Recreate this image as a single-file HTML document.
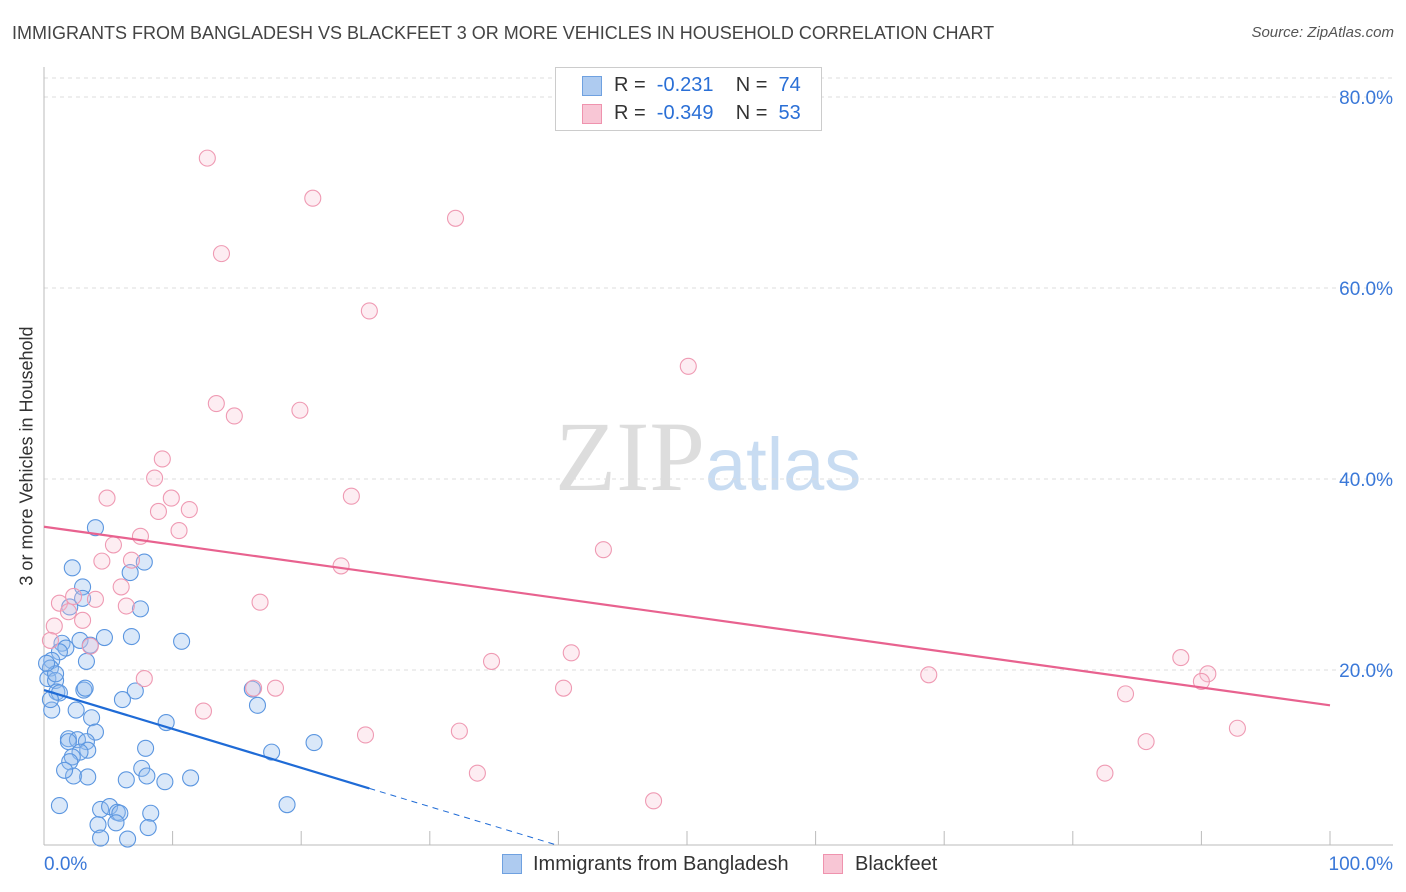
<!DOCTYPE html>
<html><head><meta charset="utf-8"><style>
body{margin:0;background:#fff;font-family:"Liberation Sans",sans-serif;}
#wrap{position:relative;width:1406px;height:892px;overflow:hidden;}
.t{position:absolute;white-space:nowrap;}
</style></head><body>
<div id="wrap">
<div class="t" style="left:12px;top:23px;font-size:18px;color:#444;">IMMIGRANTS FROM BANGLADESH VS BLACKFEET 3 OR MORE VEHICLES IN HOUSEHOLD CORRELATION CHART</div>
<div class="t" style="right:12px;top:24px;font-size:15px;color:#555;font-style:italic;">Source: ZipAtlas.com</div>
<div class="t" style="left:27px;top:456px;font-size:18px;color:#333;transform:translate(-50%,-50%) rotate(-90deg);">3 or more Vehicles in Household</div>
<svg id="svg" width="1406" height="892" style="position:absolute;left:0;top:0">
<text x="555" y="490" font-size="100" font-family="Liberation Serif" fill="#ddd">ZIP<tspan fill="#c8dcf2" font-family="Liberation Sans" font-size="74">atlas</tspan></text>
</svg>
<div style="position:absolute;left:555px;top:67px;width:265px;height:62px;border:1px solid #ccc;background:#fff;font-size:20px;color:#333;">
<div style="position:absolute;left:26px;top:8px;width:18px;height:18px;background:#aecbf0;border:1px solid #6fa1e0"></div>
<div class="t" style="left:58px;top:6px">R = &nbsp;<span style="color:#2a6fd6">-0.231</span>&nbsp;&nbsp;&nbsp; N = &nbsp;<span style="color:#2a6fd6">74</span></div>
<div style="position:absolute;left:26px;top:36px;width:18px;height:18px;background:#f8c6d5;border:1px solid #ef93ae"></div>
<div class="t" style="left:58px;top:34px">R = &nbsp;<span style="color:#2a6fd6">-0.349</span>&nbsp;&nbsp;&nbsp; N = &nbsp;<span style="color:#2a6fd6">53</span></div>
</div>
<div style="position:absolute;left:502px;top:854px;width:18px;height:18px;background:#aecbf0;border:1px solid #6fa1e0"></div>
<div class="t" style="left:533px;top:853px;font-size:20px;color:#333">Immigrants from Bangladesh</div>
<div style="position:absolute;left:823px;top:854px;width:18px;height:18px;background:#f8c6d5;border:1px solid #ef93ae"></div>
<div class="t" style="left:855px;top:853px;font-size:20px;color:#333">Blackfeet</div>
</div>
<script>
const blueX=[4.0,2.2,3.0,2.0,3.0,6.7,7.8,7.5,4.7,6.8,2.8,1.4,1.7,3.6,1.2,3.3,0.6,0.5,0.3,0.9,1.0,1.2,0.6,3.1,3.2,2.5,3.7,4.0,1.9,2.6,3.3,3.4,2.8,2.2,2.0,2.3,3.4,10.7,7.1,6.1,9.5,16.2,16.6,7.9,7.6,8.0,6.4,9.4,11.4,17.7,21.0,1.2,4.4,5.1,5.7,5.9,8.3,4.2,5.6,8.1,4.4,6.5,18.9,0.9,0.2,0.5,1.6,1.9];
const blueY=[34.9,30.7,28.7,26.6,27.5,30.2,31.3,26.4,23.4,23.5,23.1,22.8,22.3,22.6,21.9,20.9,21.0,20.2,19.1,18.9,17.7,17.6,15.8,17.9,18.1,15.8,15.0,13.5,12.8,12.7,12.5,11.6,11.4,10.9,10.4,8.9,8.8,23.0,17.8,16.9,14.5,18.0,16.3,11.8,9.7,8.9,8.5,8.3,8.7,11.4,12.4,5.8,5.4,5.7,5.1,5.0,5.0,3.8,4.0,3.5,2.4,2.3,5.9,19.6,20.7,16.9,9.5,12.5];
const pinkX=[12.7,20.9,32.0,13.8,25.3,50.1,13.4,14.8,19.9,9.2,8.6,4.9,9.9,23.9,8.9,11.3,10.5,7.5,5.4,4.5,6.8,23.1,43.5,6.0,6.4,4.0,1.2,2.3,1.9,3.0,0.8,0.5,3.6,16.8,34.8,41.0,88.4,90.5,90.0,68.8,7.8,16.3,18.0,40.4,84.1,12.4,25.0,32.3,92.8,85.7,33.7,82.5,47.4];
const pinkY=[73.6,69.4,67.3,63.6,57.6,51.8,47.9,46.6,47.2,42.1,40.1,38.0,38.0,38.2,36.6,36.8,34.6,34.0,33.1,31.4,31.5,30.9,32.6,28.7,26.7,27.4,27.0,27.7,26.1,25.2,24.6,23.1,22.5,27.1,20.9,21.8,21.3,19.6,18.8,19.5,19.1,18.1,18.1,18.1,17.5,15.7,13.2,13.6,13.9,12.5,9.2,9.2,6.3];
const yTicks=[20,40,60,80];
const blueTrend=[17.9,-0.407];
const pinkTrend=[35.0,-0.187];
const sx=v=>44+v*12.86, sy=v=>861-v*9.55;
const svg=document.getElementById('svg');const NS='http://www.w3.org/2000/svg';
function mk(t,a){const e=document.createElementNS(NS,t);for(const k in a)e.setAttribute(k,a[k]);svg.appendChild(e);return e;}
yTicks.forEach(v=>{
 const l=mk('line',{x1:44,x2:1393,y1:sy(v),y2:sy(v),stroke:'#ddd','stroke-dasharray':'4,4'});
 
 
 const t=mk('text',{x:1393,y:sy(v)+7,'text-anchor':'end','font-size':19,fill:'#3a78d8'});t.textContent=v.toFixed(1)+'%';
 
 
});
mk('line',{x1:44,x2:1393,y1:78,y2:78,stroke:'#ddd','stroke-dasharray':'4,4'});
const ax=mk('line',{x1:44,x2:44,y1:67,y2:845,stroke:'#bbb'});


const bx=mk('line',{x1:44,x2:1393,y1:845,y2:845,stroke:'#bbb'});


for(let i=1;i<=10;i++)mk('line',{x1:sx(i*10),x2:sx(i*10),y1:831,y2:845,stroke:'#bbb'});
[['0.0%',44,'start'],['100.0%',1393,'end']].forEach(([s,x,a])=>{const t=mk('text',{x:x,y:870,'text-anchor':a,'font-size':19,fill:'#3a78d8'});t.textContent=s;
 
 });
blueX.forEach((x,i)=>{const c=mk('circle',{cx:sx(x),cy:sy(blueY[i]),r:8,fill:'rgba(150,190,238,0.35)',stroke:'#5b96e0','stroke-width':1.1});
 
 });
pinkX.forEach((x,i)=>{const c=mk('circle',{cx:sx(x),cy:sy(pinkY[i]),r:8,fill:'rgba(248,195,212,0.3)',stroke:'#ef9ab3','stroke-width':1.1});
 
 });
const bf=x=>blueTrend[0]+blueTrend[1]*x, pf=x=>pinkTrend[0]+pinkTrend[1]*x;
const b1=mk('line',{x1:sx(0),y1:sy(bf(0)),x2:sx(25.3),y2:sy(bf(25.3)),stroke:'#1f6bd6','stroke-width':2.2});


const b2=mk('line',{x1:sx(25.3),y1:sy(bf(25.3)),x2:sx(40),y2:sy(bf(40)),stroke:'#1f6bd6','stroke-width':1,'stroke-dasharray':'6,5'});


const p1=mk('line',{x1:sx(0),y1:sy(pf(0)),x2:sx(100),y2:sy(pf(100)),stroke:'#e8628f','stroke-width':2.2});


</script>
</body></html>
